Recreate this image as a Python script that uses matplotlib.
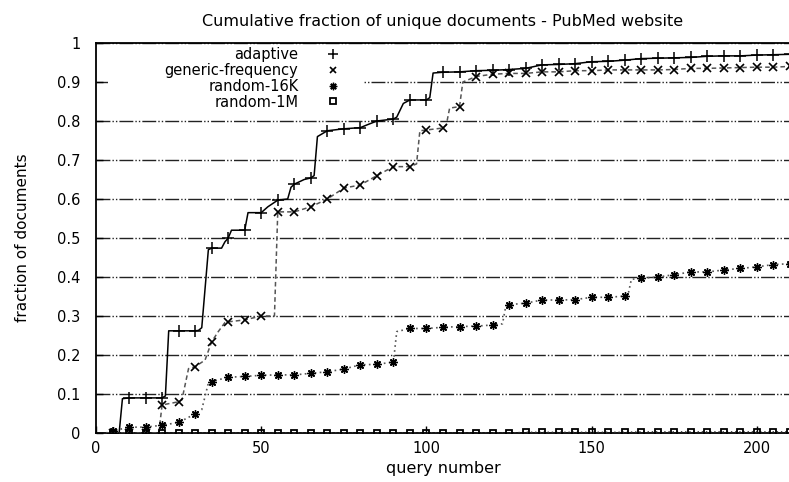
import numpy as np
import matplotlib
matplotlib.use("Agg")
import matplotlib.pyplot as plt
from matplotlib.lines import Line2D
from matplotlib.patches import Rectangle

plt.rcParams['font.family'] = ['DejaVu Sans']

title = "Cumulative fraction of unique documents - PubMed website"
x_label = "query number"
y_label = "fraction of documents"
series_names = ["adaptive", "generic-frequency", "random-16K", "random-1M"]
x_ticks = [0, 50, 100, 150, 200]
y_ticks = [0, 0.1, 0.2, 0.3, 0.4, 0.5, 0.6, 0.7, 0.8, 0.9, 1]
y_tick_labels = ["0", "0.1", "0.2", "0.3", "0.4", "0.5", "0.6", "0.7", "0.8", "0.9", "1"]

adaptive_x = [3, 5, 7, 8, 10, 15, 20, 21, 22, 25, 30, 31, 32, 34, 35, 38, 39, 40, 41, 45, 46,
              50, 52, 55, 58, 59, 60, 63, 65, 66, 67, 70, 75, 80, 82, 85, 90, 91, 93, 95, 100,
              101, 102, 105, 110, 115, 120, 125, 130, 135, 140, 145, 150, 155, 160, 165, 170,
              175, 180, 185, 190, 195, 200, 205, 210]
adaptive_y = [0, 0, 0, 0.088, 0.09, 0.09, 0.09, 0.095, 0.262, 0.262, 0.262, 0.263, 0.27, 0.47,
              0.474, 0.474, 0.49, 0.50, 0.52, 0.52, 0.565, 0.565, 0.58, 0.597, 0.60, 0.63, 0.638,
              0.65, 0.654, 0.66, 0.76, 0.775, 0.78, 0.783, 0.79, 0.80, 0.805, 0.81, 0.845, 0.854,
              0.854, 0.86, 0.923, 0.925, 0.926, 0.929, 0.93, 0.932, 0.935, 0.944, 0.945, 0.947,
              0.952, 0.953, 0.956, 0.96, 0.961, 0.962, 0.963, 0.966, 0.967, 0.967, 0.969, 0.97,
              0.971]

generic_x = [3, 5, 10, 15, 19, 20, 25, 26, 28, 30, 33, 35, 37, 39, 40, 45, 50, 54, 55, 60, 65,
             70, 75, 80, 85, 90, 95, 97, 98, 100, 105, 106, 107, 110, 111, 115, 120, 125, 130,
             135, 140, 145, 150, 155, 160, 165, 170, 175, 180, 185, 190, 195, 200, 205, 210]
generic_y = [0, 0, 0, 0, 0, 0.072, 0.08, 0.085, 0.165, 0.17, 0.187, 0.234, 0.26, 0.283, 0.285,
             0.29, 0.30, 0.30, 0.567, 0.567, 0.58, 0.60, 0.628, 0.636, 0.66, 0.683, 0.683, 0.69,
             0.775, 0.777, 0.782, 0.79, 0.833, 0.837, 0.90, 0.914, 0.92, 0.922, 0.922, 0.926,
             0.926, 0.929, 0.929, 0.931, 0.931, 0.931, 0.931, 0.932, 0.935, 0.935, 0.936, 0.937,
             0.938, 0.938, 0.94]

r16k_x = [3, 5, 10, 15, 20, 25, 30, 32, 34, 35, 40, 45, 50, 55, 60, 65, 70, 75, 80, 85, 90, 91,
          95, 100, 105, 110, 115, 120, 123, 124, 125, 130, 135, 140, 145, 150, 155, 160, 161,
          162, 165, 170, 175, 180, 185, 190, 195, 200, 205, 210]
r16k_y = [0, 0.005, 0.015, 0.015, 0.02, 0.027, 0.049, 0.06, 0.128, 0.132, 0.143, 0.145, 0.148,
          0.149, 0.149, 0.153, 0.157, 0.164, 0.175, 0.176, 0.182, 0.26, 0.268, 0.268, 0.271,
          0.273, 0.274, 0.277, 0.28, 0.325, 0.329, 0.333, 0.341, 0.341, 0.342, 0.348, 0.348,
          0.351, 0.355, 0.394, 0.397, 0.40, 0.406, 0.413, 0.413, 0.418, 0.422, 0.426, 0.432,
          0.434]

r1m_x = [3, 5, 10, 15, 20, 25, 30, 35, 40, 45, 50, 55, 60, 65, 70, 75, 80, 85, 90, 95, 100,
         105, 110, 115, 120, 125, 130, 135, 140, 145, 150, 155, 160, 165, 170, 175, 180, 185,
         190, 195, 200, 205, 210]
r1m_y = [0, 0, 0, 0, 0, 0, 0, 0, 0, 0, 0, 0, 0, 0, 0, 0, 0, 0, 0, 0, 0, 0, 0, 0, 0, 0,
         0.002, 0.002, 0.002, 0.002, 0.002, 0.002, 0.002, 0.003, 0.003, 0.003, 0.003, 0.003,
         0.003, 0.003, 0.003, 0.003, 0.003]

W, H = 789, 482
fig = plt.figure(figsize=(W / 100, H / 100), dpi=100)
x0_px, top_px, bot_px = 96, 43, 433
ax = fig.add_axes([x0_px / W, 1 - bot_px / H, (790 - x0_px) / W, (bot_px - top_px) / H])
ax.set_xlim(0, 210)
ax.set_ylim(0, 1)


def marks(xs):
    return [i for i, v in enumerate(xs) if v % 5 == 0]


styles = [
    dict(color='black', lw=1.1, ls='-', marker='+', ms=8, mew=1.1),
    dict(color='#555555', lw=1.1, ls=(0, (3, 2)), marker='x', ms=5.5, mew=1.2),
    dict(color='#555555', lw=1.2, ls=(0, (1, 2)), marker=(8, 2, 0), ms=6, mew=1.0),
    dict(color='#333333', lw=1.0, ls=(0, (1, 2)), marker='s', ms=5, mew=1.3, mfc='none'),
]
data = [(adaptive_x, adaptive_y), (generic_x, generic_y), (r16k_x, r16k_y), (r1m_x, r1m_y)]
for (xs, ys), st in zip(data, styles):
    st = dict(st)
    mfc = st.pop('mfc', None)
    ax.plot(xs, ys, markevery=marks(xs), mec='black', zorder=3,
            **({'mfc': mfc} if mfc else {}), **st)

ax.set_yticks(y_ticks)
ax.set_yticklabels(y_tick_labels)
ax.set_xticks(x_ticks)
ax.tick_params(axis='both', direction='in', length=5, width=1, labelsize=10.5, colors='black')
ax.tick_params(axis='y', pad=11)
ax.tick_params(axis='x', pad=6)
ax.yaxis.grid(True, color='#222222', lw=1.0, ls=(0, (10, 1.5, 1, 1.5, 1, 1.5)))
ax.set_axisbelow(True)
for s in ['left', 'bottom', 'top']:
    ax.spines[s].set_linewidth(1.3)
ax.spines['right'].set_visible(False)

ax.add_patch(Rectangle((0.017, 0.84), 0.368, 0.15, transform=ax.transAxes,
                       facecolor='white', edgecolor='none', zorder=2))

handles = []
for st in styles:
    handles.append(Line2D([], [], ls='none', marker=st['marker'], ms=st['ms'] * 0.9,
                          mew=st['mew'], color='black', mfc='none'))
leg = ax.legend(handles, series_names, loc='upper right', bbox_to_anchor=(0.38, 1.0),
                markerfirst=False, frameon=False, fontsize=10.5, handlelength=3.0,
                handletextpad=0.9, labelspacing=0.05, borderpad=0.25, borderaxespad=0.05)

ax.set_title(title, fontsize=11.5, pad=12)
ax.set_xlabel(x_label, fontsize=11.5)
ax.set_ylabel(y_label, fontsize=11)
ax.yaxis.set_label_coords(-(x0_px - 30) / 694, 0.5)
ax.xaxis.set_label_coords(0.5, -0.072)

fig.savefig("out.png", dpi=100)
